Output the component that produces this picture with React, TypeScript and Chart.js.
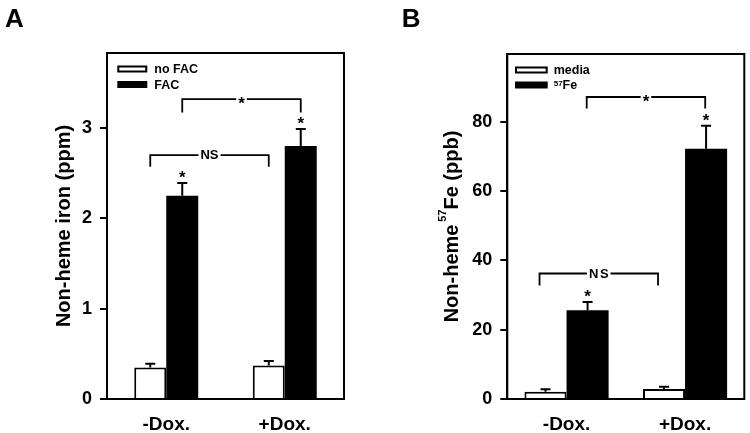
import React, { useEffect, useRef } from "react";
import { Chart, registerables } from "chart.js";

Chart.register(...registerables);

const FONT = "'Liberation Sans', Arial, Helvetica, sans-serif";

const categories = ["-Dox.", "+Dox."];

// ---- Panel A data ----
const aNoFAC = [0.35, 0.37];
const aNoFACErr = [0.04, 0.05];
const aFAC = [2.25, 2.8];
const aFACErr = [0.14, 0.19];
const aTicks = [0, 1, 2, 3];
const aYMax = 3.83;

// ---- Panel B data ----
const bMedia = [2.1, 2.9];
const bMediaErr = [0.7, 0.6];
const bFe57 = [25.6, 72.2];
const bFe57Err = [2.4, 6.6];
const bTicks = [0, 20, 40, 60, 80];
const bYMax = 99.5;

// significance brackets (y in data units, x as category + fraction of category width)
const aBrackets = [
  { label: "NS", from: 0, to: 1, dx: -0.135, y: 2.7, yEnd: 2.57 },
  { label: "*", from: 0, to: 1, dx: 0.135, y: 3.32, yEnd: 3.17 },
];
const bBrackets = [
  { label: "NS", from: 0, to: 1, dx: -0.228, y: 36.2, yEnd: 32.7 },
  { label: "*", from: 0, to: 1, dx: 0.17, y: 87.1, yEnd: 83.8 },
];

type Seg = { t: string; s: number; r: number };

function drawRich(ctx: CanvasRenderingContext2D, segs: Seg[], cx: number, cy: number, rotated: boolean, align: "center" | "left") {
  ctx.save();
  ctx.translate(cx, cy);
  if (rotated) ctx.rotate(-Math.PI / 2);
  const widths = segs.map((s) => {
    ctx.font = `bold ${s.s}px ${FONT}`;
    return ctx.measureText(s.t).width;
  });
  const total = widths.reduce((a, b) => a + b, 0);
  const mainSize = Math.max(...segs.map((s) => s.s));
  let x = align === "center" ? -total / 2 : 0;
  const base = 0.358 * mainSize;
  ctx.textAlign = "left";
  ctx.textBaseline = "alphabetic";
  ctx.fillStyle = "#000";
  segs.forEach((s, i) => {
    ctx.font = `bold ${s.s}px ${FONT}`;
    ctx.fillText(s.t, x, base - s.r);
    x += widths[i];
  });
  ctx.restore();
}

function drawStar(ctx: CanvasRenderingContext2D, x: number, cy: number, size: number) {
  ctx.font = `bold ${size}px ${FONT}`;
  ctx.textAlign = "center";
  ctx.textBaseline = "alphabetic";
  const m = ctx.measureText("*");
  const asc = m.actualBoundingBoxAscent;
  const desc = m.actualBoundingBoxDescent;
  ctx.fillText("*", x, cy + (asc - desc) / 2);
}

interface Panel {
  id: string;
  letter: string;
  letterX: number;
  values: number[][];
  errs: number[][];
  legend: Seg[][];
  legendDx: number;
  legendW: number;
  legendDy: number[];
  legendTextGap: number;
  ticks: number[];
  yMax: number;
  area: { left: number; right: number; top: number; bottom: number };
  catPct: number;
  title: Seg[];
  titleX: number;
  brackets: { label: string; from: number; to: number; dx: number; y: number; yEnd: number }[];
  nsSpacing: number;
}

const W = 375;
const H = 433;
const STAR = 17;

function makePlugin(p: Panel) {
  return {
    id: "annot" + p.id,
    afterDraw(chart: any) {
      const ctx: CanvasRenderingContext2D = chart.ctx;
      const area = chart.chartArea;
      const xs = chart.scales.x;
      const ys = chart.scales.y;
      const catW = (area.right - area.left) / categories.length;
      ctx.save();
      ctx.strokeStyle = "#000";
      ctx.fillStyle = "#000";
      ctx.lineCap = "butt";

      // frame
      ctx.lineWidth = 2;
      ctx.strokeRect(area.left, area.top, area.right - area.left, area.bottom - area.top);

      // error bars (upper only)
      p.values.forEach((vals, di) => {
        const meta = chart.getDatasetMeta(di);
        meta.data.forEach((el: any, j: number) => {
          const x = el.x;
          const yBar = ys.getPixelForValue(vals[j]);
          const yTop = ys.getPixelForValue(vals[j] + p.errs[di][j]);
          ctx.lineWidth = 2;
          ctx.beginPath();
          ctx.moveTo(x, yBar);
          ctx.lineTo(x, yTop);
          ctx.moveTo(x - 5, yTop);
          ctx.lineTo(x + 5, yTop);
          ctx.stroke();
        });
      });

      // stars above second series
      const meta1 = chart.getDatasetMeta(1);
      meta1.data.forEach((el: any, j: number) => {
        const yTop = ys.getPixelForValue(p.values[1][j] + p.errs[1][j]);
        drawStar(ctx, el.x, yTop - 8.5, STAR);
      });

      // brackets
      p.brackets.forEach((b) => {
        const xL = xs.getPixelForValue(b.from) + b.dx * catW;
        const xR = xs.getPixelForValue(b.to) + b.dx * catW;
        const yH = ys.getPixelForValue(b.y);
        const yE = ys.getPixelForValue(b.yEnd);
        const mid = (xL + xR) / 2;
        let tw: number;
        if (b.label === "*") {
          ctx.font = `bold ${STAR}px ${FONT}`;
          tw = ctx.measureText("*").width;
        } else {
          ctx.font = `bold 13px ${FONT}`;
          (ctx as any).letterSpacing = p.nsSpacing + "px";
          tw = ctx.measureText(b.label).width - p.nsSpacing;
        }
        const gap = 2;
        ctx.lineWidth = 1.8;
        ctx.beginPath();
        ctx.moveTo(xL, yE);
        ctx.lineTo(xL, yH);
        ctx.lineTo(mid - tw / 2 - gap, yH);
        ctx.moveTo(mid + tw / 2 + gap, yH);
        ctx.lineTo(xR, yH);
        ctx.lineTo(xR, yE);
        ctx.stroke();
        if (b.label === "*") {
          (ctx as any).letterSpacing = "0px";
          drawStar(ctx, mid, yH + 1.5, STAR);
        } else {
          ctx.textAlign = "left";
          ctx.textBaseline = "middle";
          ctx.fillText(b.label, mid - tw / 2, yH + 0.5);
          (ctx as any).letterSpacing = "0px";
        }
      });

      // legend
      p.legend.forEach((segs, i) => {
        const bx = area.left + p.legendDx;
        const by = area.top + p.legendDy[i];
        const bh = 7;
        ctx.lineWidth = 2;
        if (i === 0) {
          ctx.fillStyle = "#fff";
          ctx.fillRect(bx, by, p.legendW, bh);
          ctx.strokeStyle = "#000";
          ctx.strokeRect(bx + 1, by + 1, p.legendW - 2, bh - 2);
        } else {
          ctx.fillStyle = "#000";
          ctx.fillRect(bx, by, p.legendW, bh);
        }
        ctx.fillStyle = "#000";
        drawRich(ctx, segs, bx + p.legendW + p.legendTextGap, by + bh / 2, false, "left");
      });

      // y title
      drawRich(ctx, p.title, p.titleX, (area.top + area.bottom) / 2, true, "center");

      // panel letter
      ctx.font = `bold 26px ${FONT}`;
      ctx.textAlign = "left";
      ctx.textBaseline = "alphabetic";
      ctx.fillStyle = "#000";
      ctx.fillText(p.letter, p.letterX, 27);

      ctx.restore();
    },
  };
}

function buildChart(canvas: HTMLCanvasElement, p: Panel) {
  return new Chart(canvas, {
    type: "bar",
    data: {
      labels: categories,
      datasets: [
        {
          data: p.values[0],
          backgroundColor: "#ffffff",
          borderColor: "#000000",
          borderWidth: 2,
          borderSkipped: "start",
          categoryPercentage: p.catPct,
          barPercentage: 1,
        },
        {
          data: p.values[1],
          backgroundColor: "#000000",
          borderColor: "#000000",
          borderWidth: 0,
          categoryPercentage: p.catPct,
          barPercentage: 1,
        },
      ],
    },
    options: {
      responsive: false,
      animation: false,
      devicePixelRatio: 1,
      layout: { padding: { left: 0, right: W - p.area.right, top: p.area.top, bottom: 0 } },
      plugins: { legend: { display: false }, tooltip: { enabled: false } },
      scales: {
        x: {
          type: "category",
          grid: { display: false, drawTicks: false },
          border: { display: true, color: "#000", width: 2 },
          ticks: { color: "#000", font: { family: FONT, size: 19, weight: "bold" }, padding: 14 },
          afterFit: (s: any) => {
            s.height = H - p.area.bottom;
          },
        },
        y: {
          type: "linear",
          min: 0,
          max: p.yMax,
          grid: { display: true, drawOnChartArea: false, drawTicks: true, tickLength: 7, color: "#000", lineWidth: 2 },
          border: { display: true, color: "#000", width: 2 },
          ticks: { color: "#000", font: { family: FONT, size: 18, weight: "bold" }, padding: 8 },
          afterBuildTicks: (s: any) => {
            s.ticks = p.ticks.map((v) => ({ value: v }));
          },
          afterFit: (s: any) => {
            s.width = p.area.left;
          },
        },
      },
    } as any,
    plugins: [makePlugin(p)],
  });
}

const panelA: Panel = {
  id: "A",
  letter: "A",
  letterX: 5,
  values: [aNoFAC, aFAC],
  errs: [aNoFACErr, aFACErr],
  legend: [[{ t: "no FAC", s: 12.5, r: 0 }], [{ t: "FAC", s: 12.5, r: 0 }]],
  legendDx: 10.3,
  legendW: 30,
  legendDy: [12.5, 28],
  legendTextGap: 7,
  ticks: aTicks,
  yMax: aYMax,
  area: { left: 107, right: 344, top: 53, bottom: 399 },
  catPct: 0.54,
  title: [{ t: "Non-heme iron (ppm)", s: 20, r: 0 }],
  titleX: 62.5,
  brackets: aBrackets,
  nsSpacing: 0,
};

const panelB: Panel = {
  id: "B",
  letter: "B",
  letterX: 26.7,
  values: [bMedia, bFe57],
  errs: [bMediaErr, bFe57Err],
  legend: [
    [{ t: "media", s: 12.5, r: 0 }],
    [
      { t: "57", s: 8, r: 3.5 },
      { t: "Fe", s: 12.5, r: 0 },
    ],
  ],
  legendDx: 7.7,
  legendW: 32.7,
  legendDy: [12.5, 27.5],
  legendTextGap: 6,
  ticks: bTicks,
  yMax: bYMax,
  area: { left: 132.3, right: 369.3, top: 54, bottom: 399 },
  catPct: 0.71,
  title: [
    { t: "Non-heme", s: 20, r: 0 },
    { t: " ", s: 10, r: 0 },
    { t: "57", s: 11, r: 12 },
    { t: "Fe (ppb)", s: 20, r: 0 },
  ],
  titleX: 76,
  brackets: bBrackets,
  nsSpacing: 1.5,
};

export default function App() {
  const refA = useRef<HTMLCanvasElement>(null);
  const refB = useRef<HTMLCanvasElement>(null);

  useEffect(() => {
    const ca = buildChart(refA.current!, panelA);
    const cb = buildChart(refB.current!, panelB);
    return () => {
      ca.destroy();
      cb.destroy();
    };
  }, []);

  return (
    <div style={{ position: "fixed", left: 0, top: 0, width: 750, height: 433, background: "#fff", overflow: "hidden" }}>
      <canvas ref={refA} width={W} height={H} style={{ position: "absolute", left: 0, top: 0 }} />
      <canvas ref={refB} width={W} height={H} style={{ position: "absolute", left: W, top: 0 }} />
    </div>
  );
}
